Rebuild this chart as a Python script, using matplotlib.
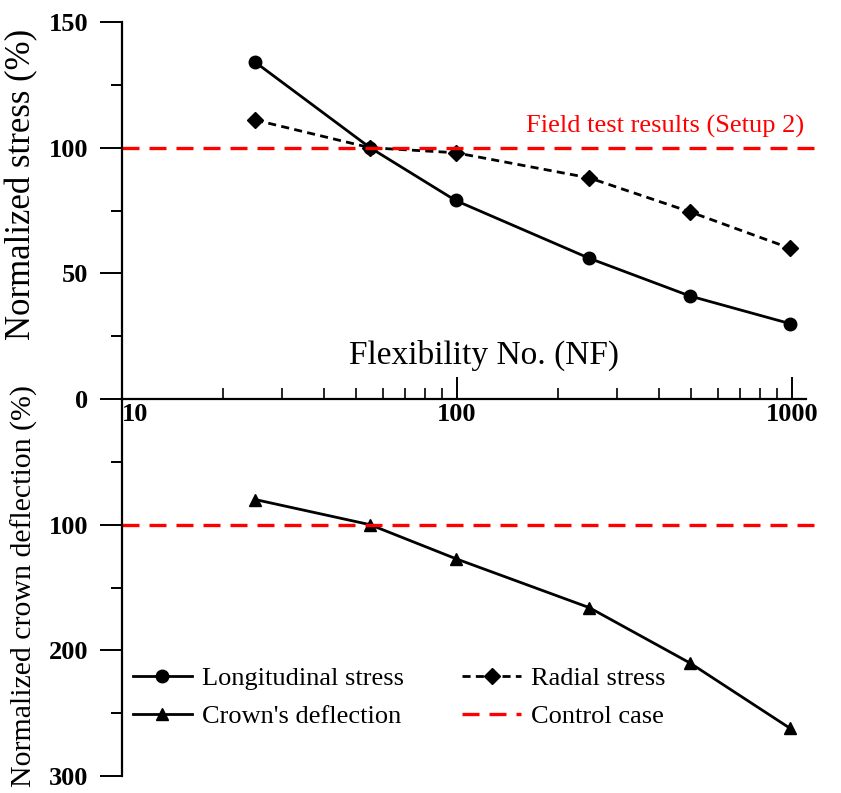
import matplotlib.pyplot as plt
from matplotlib.ticker import FixedLocator, NullFormatter

plt.rcParams["font.family"] = ["Liberation Serif", "DejaVu Serif"]

# flexibility number of each model case
nf = [25, 55, 99, 248, 495, 985]
# normalized to the field test (setup 2) values, in %
longitudinal = [134, 100, 79, 56, 41, 30]
radial = [111, 100, 98, 88, 74.5, 60]
deflection = [80, 100, 127, 166, 210, 262]
control = 100

x_major = [10, 100, 1000]
x_minor = [20, 30, 40, 50, 60, 70, 80, 90, 200, 300, 400, 500, 600, 700, 800, 900]

fig = plt.figure(figsize=(8.41, 7.93), dpi=100)
ax_top = fig.add_axes([0.145, 0.4968, 0.83, 0.4754])
ax_bot = fig.add_axes([0.145, 0.0214, 0.83, 0.4754], sharex=ax_top)

for ax in (ax_top, ax_bot):
    ax.set_xscale("log")
    ax.set_xlim(10, 1210)
    ax.spines["top"].set_visible(False)
    ax.spines["right"].set_visible(False)
    ax.spines["left"].set_linewidth(1.6)
    ax.patch.set_alpha(0)

red_dash = dict(color="#ff0000", lw=2.4, dashes=(5.1, 3))

# stresses
l1, = ax_top.plot(nf, longitudinal, "-", color="black", lw=2, marker="o", ms=9,
                  label="Longitudinal stress")
l2, = ax_top.plot(nf, radial, color="black", lw=2, dashes=(2.9, 1.9), marker="D", ms=8,
                  label="Radial stress")
ax_top.axhline(control, **red_dash)
ax_top.text(0.978, 104, "Field test results (Setup 2)", color="#ff0000", fontsize=19,
            ha="right", va="bottom", transform=ax_top.get_yaxis_transform())

ax_top.set_ylim(0, 150)
ax_top.set_yticks([0, 50, 100, 150])
ax_top.yaxis.set_minor_locator(FixedLocator([25, 75, 125]))
ax_top.spines["bottom"].set_linewidth(1.6)
ax_top.spines["bottom"].set_bounds(10, 1100)
ax_top.xaxis.set_major_locator(FixedLocator(x_major))
ax_top.xaxis.set_minor_locator(FixedLocator(x_minor))
ax_top.xaxis.set_minor_formatter(NullFormatter())
ax_top.set_xticklabels(["10", "100", "1000"])
ax_top.tick_params(axis="x", which="major", direction="in", length=16, width=1.4,
                   labelsize=19, pad=3)
ax_top.tick_params(axis="x", which="minor", direction="in", length=8, width=1.2)
for lab in ax_top.get_xticklabels():
    lab.set_fontweight("bold")
ax_top.get_xticklabels()[0].set_ha("left")
ax_top.get_xticklabels()[0].set_x(11.5)
ax_top.text(0.519, 0.115, "Flexibility No. (NF)", fontsize=24, ha="center", va="center",
            transform=ax_top.transAxes)

# crown deflection
l3, = ax_bot.plot(nf, deflection, "-", color="black", lw=2, marker="^", ms=9,
                  label="Crown's deflection")
l4 = ax_bot.axhline(control, label="Control case", **red_dash)
ax_bot.set_ylim(300, 0)
ax_bot.set_yticks([100, 200, 300])
ax_bot.yaxis.set_minor_locator(FixedLocator([50, 150, 250]))
ax_bot.spines["bottom"].set_visible(False)
ax_bot.tick_params(axis="x", which="both", bottom=False, labelbottom=False)

for ax in (ax_top, ax_bot):
    ax.tick_params(axis="y", which="major", direction="out", length=16, width=1.4,
                   labelsize=19, pad=8)
    ax.tick_params(axis="y", which="minor", direction="out", length=8, width=1.4)
    for lab in ax.get_yticklabels():
        lab.set_fontweight("bold")

ax_top.set_ylabel("Normalized stress (%)", fontsize=25)
ax_top.yaxis.set_label_coords(-0.12, 0.568)
ax_bot.set_ylabel("Normalized crown deflection (%)", fontsize=21.5)
ax_bot.yaxis.set_label_coords(-0.12, 0.505)

ax_bot.legend([l1, l3, l2, l4],
              ["Longitudinal stress", "Crown's deflection", "Radial stress", "Control case"],
              ncol=2, frameon=False, fontsize=19, loc="lower left",
              bbox_to_anchor=(0.0, 0.1), handlelength=2.25, handletextpad=0.38,
              columnspacing=2.2, labelspacing=0.55, borderaxespad=0)

fig.savefig("out.png", dpi=100)
